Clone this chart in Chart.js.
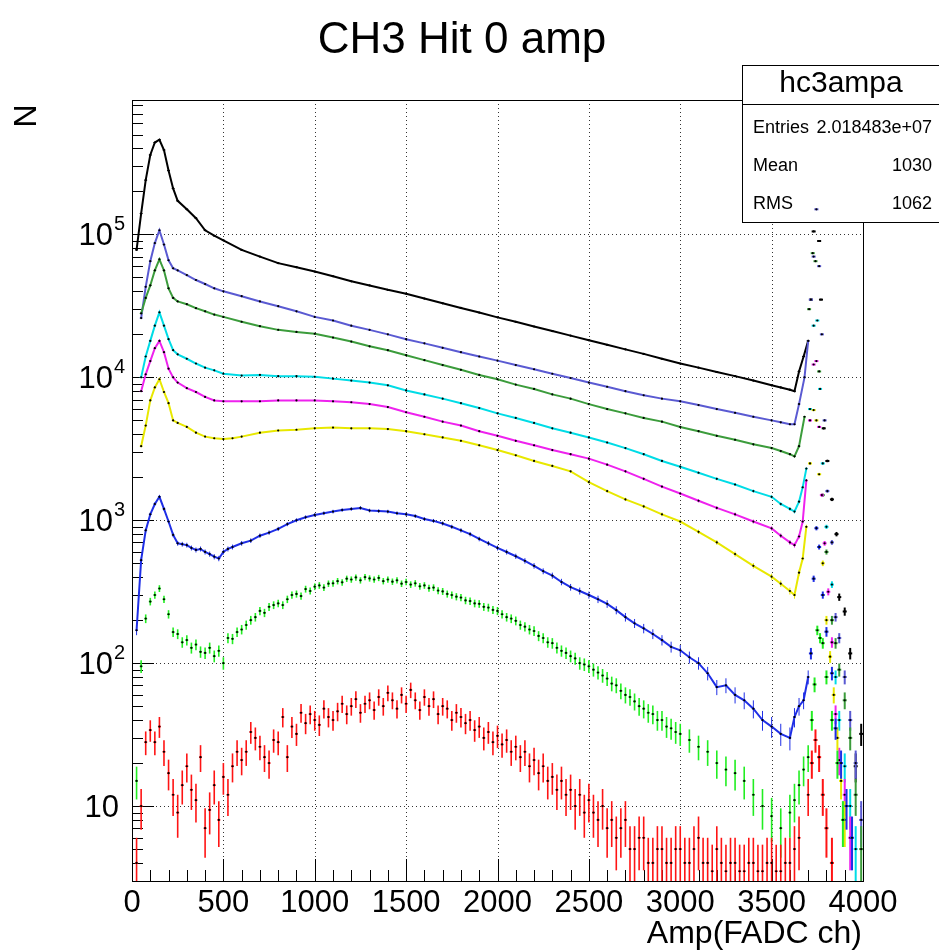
<!DOCTYPE html>
<html>
<head>
<meta charset="utf-8">
<script src="https://cdn.jsdelivr.net/npm/chart.js@4.4.1/dist/chart.umd.min.js"></script>
<style>
  html, body { margin: 0; padding: 0; background: #ffffff; }
  #wrap { width: 939px; height: 952px; position: relative; }
</style>
</head>
<body>
<div id="wrap"><canvas id="c" width="939" height="952"></canvas></div>
<script>
// ---------------- text ----------------
const titleText = 'CH3 Hit 0 amp';
const xAxisTitle = 'Amp(FADC ch)';
const yAxisTitle = 'N';
const statsName = 'hc3ampa';
const statsLabels = ['Entries', 'Mean', 'RMS'];
const statsValues = ['2.018483e+07', '1030', '1062'];

// ---------------- axes ----------------
const xMin = 0, xMax = 4000;
const yMin = 2.99, yMax = 8.73e5;
const xTickValues = [0, 500, 1000, 1500, 2000, 2500, 3000, 3500, 4000];
const xTickLabels = ['0', '500', '1000', '1500', '2000', '2500', '3000', '3500', '4000'];
const yTickValues = [10, 100, 1000, 10000, 100000];
const yTickBase = ['10', '10', '10', '10', '10'];
const yTickExp = ['', '2', '3', '4', '5'];

// ---------------- series (Amp channel, counts) ----------------
// black
const xBlack = [25,50,75,100,125,150,175,200,225,250,300,350,400,450,500,600,700,800,900,1000,1100,1200,1300,1400,1500,1600,1700,1800,1900,2000,2100,2200,2300,2400,2500,2600,2700,2800,2900,3000,3100,3200,3300,3400,3500,3550,3600,3625,3650,3675,3700,3715,3730,3745,3760,3770,3785,3805,3830,3855,3870,3900,3930,3960,3990];
const yBlack = [7.8e4,1.4e5,2.4e5,3.6e5,4.4e5,4.6e5,3.9e5,2.8e5,2.1e5,1.72e5,1.5e5,1.3e5,1.07e5,9.8e4,9.1e4,7.8e4,7.0e4,6.3e4,5.9e4,5.5e4,5.1e4,4.7e4,4.4e4,4.1e4,3.85e4,3.56e4,3.3e4,3.06e4,2.84e4,2.63e4,2.45e4,2.27e4,2.11e4,1.96e4,1.82e4,1.69e4,1.57e4,1.46e4,1.35e4,1.25e4,1.17e4,1.09e4,1.02e4,9.5e3,8.8e3,8.5e3,8.2e3,8.0e3,1.1e4,1.4e4,1.8e4,3.5e4,1.05e5,1.9e5,9e4,3.5e4,4.4e3,2.6e3,1.4e3,800,290,230,117,19,32];
// slate blue
const xViolet = [50,75,100,125,150,175,200,225,250,300,350,400,450,500,600,700,800,900,1000,1100,1200,1300,1400,1500,1600,1700,1800,1900,2000,2100,2200,2300,2400,2500,2600,2700,2800,2900,3000,3100,3200,3300,3400,3500,3550,3600,3625,3650,3680,3700,3715,3730,3745,3760,3775,3790,3805,3830,3850,3870,3900,3930,3960,3990];
const yViolet = [2.6e4,4.3e4,6.5e4,8.7e4,1.07e5,8.5e4,6.6e4,5.8e4,5.6e4,5.2e4,4.8e4,4.5e4,4.2e4,4.0e4,3.7e4,3.4e4,3.15e4,2.9e4,2.65e4,2.5e4,2.3e4,2.15e4,2.0e4,1.85e4,1.73e4,1.61e4,1.5e4,1.4e4,1.31e4,1.22e4,1.14e4,1.06e4,9.9e3,9.2e3,8.6e3,8.0e3,7.5e3,7.1e3,6.8e3,6.4e3,6.0e3,5.65e3,5.3e3,5.0e3,4.85e3,4.7e3,4.7e3,6.5e3,1e4,1.8e4,3.5e4,7e4,1.5e5,6e4,2e4,5e3,1.6e3,700,210,150,80,40,20,8];
// green
const xGreen = [50,75,100,125,150,175,200,225,250,300,350,400,450,500,600,700,800,900,1000,1100,1200,1300,1400,1500,1600,1700,1800,1900,2000,2100,2200,2300,2400,2500,2600,2700,2800,2900,3000,3100,3200,3300,3400,3500,3550,3600,3625,3650,3680,3705,3725,3740,3760,3780,3800,3830,3850,3870,3900,3930,3960,3990];
const yGreen = [2.8e4,3.6e4,4.4e4,5.6e4,6.7e4,5.6e4,4.2e4,3.6e4,3.4e4,3.25e4,3.05e4,2.9e4,2.75e4,2.65e4,2.45e4,2.28e4,2.15e4,2.08e4,2.02e4,1.9e4,1.78e4,1.65e4,1.55e4,1.43e4,1.32e4,1.22e4,1.13e4,1.04e4,9.7e3,8.9e3,8.3e3,7.6e3,7.1e3,6.5e3,6.0e3,5.6e3,5.2e3,4.9e3,4.5e3,4.2e3,3.9e3,3.66e3,3.4e3,3.2e3,3.05e3,2.9e3,2.8e3,3.3e3,5.3e3,3e4,7.4e4,6.5e4,1.1e4,1.5e3,600,200,138,90,55,30,12,5];
// cyan
const xCyan = [50,75,100,125,150,175,200,225,250,300,350,400,450,500,600,700,800,900,1000,1100,1200,1300,1400,1500,1600,1700,1800,1900,2000,2100,2200,2300,2400,2500,2600,2700,2800,2900,3000,3100,3200,3300,3400,3500,3550,3600,3625,3650,3670,3690,3710,3730,3750,3765,3780,3800,3830,3850,3870,3900,3930,3960];
const yCyan = [1.0e4,1.4e4,1.8e4,2.3e4,2.85e4,2.3e4,1.85e4,1.55e4,1.45e4,1.35e4,1.25e4,1.17e4,1.12e4,1.06e4,1.03e4,1.04e4,1.02e4,1.02e4,1.01e4,9.8e3,9.5e3,9.2e3,8.8e3,8.1e3,7.6e3,7.1e3,6.6e3,6.1e3,5.6e3,5.2e3,4.8e3,4.4e3,4.1e3,3.8e3,3.5e3,3.2e3,2.9e3,2.6e3,2.37e3,2.15e3,1.95e3,1.78e3,1.6e3,1.46e3,1.3e3,1.2e3,1.15e3,1.35e3,1.7e3,2.3e3,6e3,2.3e4,2.5e4,8.3e3,2.5e3,900,355,80,40,19,10,5];
// magenta
const xMagenta = [50,75,100,125,150,175,200,225,250,300,350,400,450,500,600,700,800,900,1000,1100,1200,1300,1400,1500,1600,1700,1800,1900,2000,2100,2200,2300,2400,2500,2600,2700,2800,2900,3000,3100,3200,3300,3400,3500,3550,3600,3625,3650,3670,3690,3710,3730,3745,3760,3775,3790,3810,3830,3850,3870,3900,3930];
const yMagenta = [8e3,1.05e4,1.3e4,1.6e4,1.8e4,1.5e4,1.15e4,1.0e4,9.2e3,8.4e3,7.9e3,7.3e3,6.9e3,6.8e3,6.8e3,6.8e3,6.9e3,6.9e3,6.9e3,6.8e3,6.7e3,6.5e3,6.2e3,5.7e3,5.3e3,4.9e3,4.6e3,4.2e3,3.9e3,3.6e3,3.35e3,3.1e3,2.9e3,2.7e3,2.45e3,2.2e3,1.95e3,1.72e3,1.54e3,1.37e3,1.22e3,1.1e3,980,877,780,700,670,770,980,1.9e3,5e3,1.23e4,1.3e4,4.5e3,1.5e3,690,316,140,44,21,12,6];
// yellow
const xYellow = [50,75,100,125,150,175,200,225,250,300,350,400,450,500,550,600,700,800,900,1000,1100,1200,1300,1400,1500,1600,1700,1800,1900,2000,2100,2200,2300,2400,2500,2600,2700,2800,2900,3000,3100,3200,3300,3400,3500,3550,3600,3625,3650,3670,3690,3710,3730,3745,3760,3780,3800,3820,3840,3860,3880,3900];
const yYellow = [3.3e3,4.6e3,6.9e3,8.5e3,9.7e3,7.9e3,6.6e3,5e3,4.8e3,4.5e3,4.1e3,3.85e3,3.75e3,3.7e3,3.75e3,3.85e3,4.1e3,4.25e3,4.3e3,4.4e3,4.45e3,4.4e3,4.4e3,4.35e3,4.2e3,4.0e3,3.8e3,3.6e3,3.35e3,3.1e3,2.85e3,2.6e3,2.4e3,2.2e3,1.85e3,1.6e3,1.4e3,1.25e3,1.1e3,980,830,700,580,480,403,360,320,300,430,540,900,2.5e3,5.9e3,5e3,2.1e3,500,200,111,60,30,15,8];
// blue
const xBlue = [25,50,75,100,125,150,175,200,225,250,275,300,325,350,375,400,425,450,475,500,525,550,600,650,700,750,800,850,900,950,1000,1050,1100,1150,1200,1250,1300,1350,1400,1450,1500,1550,1600,1650,1700,1750,1800,1850,1900,1950,2000,2050,2100,2150,2200,2250,2300,2350,2400,2450,2500,2550,2600,2650,2700,2750,2800,2850,2900,2950,3000,3050,3100,3150,3200,3250,3300,3350,3400,3450,3500,3550,3600,3625,3650,3675,3700,3715,3730,3745,3760,3780,3800,3830,3850,3880,3910,3940];
const yBlue = [170,526,850,1100,1300,1460,1200,980,790,690,680,670,640,620,630,600,580,556,540,600,630,650,690,720,780,820,870,940,1000,1050,1090,1120,1150,1180,1200,1220,1170,1160,1150,1120,1100,1070,1020,990,950,900,850,800,740,690,640,600,560,520,480,440,410,370,340,320,300,280,260,235,210,190,175,160,145,130,123,110,100,85,68,70,60,55,48,40,36,32,30,42,50,55,80,117,390,880,650,300,166,85,35,20,10,6];
// bright green
const xLime = [25,50,75,100,125,150,175,200,225,250,275,300,325,350,375,400,425,450,475,500,525,550,575,600,625,650,675,700,725,750,775,800,825,850,875,900,925,950,975,1000,1025,1050,1075,1100,1125,1150,1175,1200,1225,1250,1275,1300,1325,1350,1375,1400,1425,1450,1475,1500,1525,1550,1575,1600,1625,1650,1675,1700,1725,1750,1775,1800,1825,1850,1875,1900,1925,1950,1975,2000,2025,2050,2075,2100,2125,2150,2175,2200,2225,2250,2275,2300,2325,2350,2375,2400,2425,2450,2475,2500,2525,2550,2575,2600,2625,2650,2675,2700,2725,2750,2775,2800,2825,2850,2875,2900,2925,2950,2975,3000,3050,3100,3150,3200,3250,3300,3350,3400,3450,3500,3550,3600,3625,3650,3675,3700,3720,3735,3750,3765,3780,3800,3830,3860,3890];
const yLime = [15,95,205,270,300,333,280,220,165,160,140,145,128,135,120,118,128,112,122,100,150,148,165,172,185,200,210,232,225,248,255,262,255,280,300,305,295,330,320,343,350,338,360,362,375,368,390,385,398,380,400,392,385,395,375,385,372,380,360,370,355,362,345,350,335,338,322,318,305,300,292,288,275,272,262,260,248,245,236,232,220,210,205,198,185,180,172,168,155,150,140,138,128,122,118,112,108,100,98,95,90,86,82,78,72,70,64,60,58,54,50,48,45,44,40,40,36,35,33,32,29,26,24,20,18,17,15,12,10,8.5,7,9,11,14,18,22,40,71,170,150,138,80,40,20,8];
// red
const xRed = [25,50,75,100,125,150,175,200,225,250,275,300,325,350,375,400,425,450,475,500,525,550,575,600,625,650,675,700,725,750,775,800,825,850,875,900,925,950,975,1000,1025,1050,1075,1100,1125,1150,1175,1200,1225,1250,1275,1300,1325,1350,1375,1400,1425,1450,1475,1500,1525,1550,1575,1600,1625,1650,1675,1700,1725,1750,1775,1800,1825,1850,1875,1900,1925,1950,1975,2000,2025,2050,2075,2100,2125,2150,2175,2200,2225,2250,2275,2300,2325,2350,2375,2400,2425,2450,2475,2500,2525,2550,2575,2600,2625,2650,2675,2700,2725,2750,2775,2800,2825,2850,2875,2900,2925,2950,2975,3000,3025,3050,3075,3100,3125,3150,3175,3200,3225,3250,3275,3300,3325,3350,3375,3400,3425,3450,3475,3500,3525,3550,3575,3600,3625,3650,3700,3720,3740,3760,3780,3800,3830];
const yRed = [4,10,28,34,28,36,24,17,12,9,14,19,13,11,22,7,9.4,14,8,16,12,19,24,21,24,33,30,26,22,20,29,28,42,22,36,32,45,38,44,40,37,48,42,40,46,52,44,50,56,45,52,55,47,58,50,62,55,48,60,52,65,55,47,58,50,56,44,50,48,40,45,42,38,40,34,36,30,33,28,31,27,29,24,26,22,24,19,21,17,19,15,16,13,15,12,13,10,12,9,11,9,8,10,7,8,6,7,8,5,5,6,6,4,4,5,5,4,4,5,5,4,4,5,6,4,4,3.5,5,4,3.5,4,4,3.5,3.5,4,4,3.5,3.5,4,4,3.5,3.5,4,4,5,6,12,20,29,22,12,7,4];

const seriesList = [
  { xs: xBlack,   ys: yBlack,   color: '#000000', line: true,  order: 9 },
  { xs: xViolet,  ys: yViolet,  color: '#5a5ad2', line: true,  order: 8 },
  { xs: xGreen,   ys: yGreen,   color: '#3c9c3c', line: true,  order: 7 },
  { xs: xCyan,    ys: yCyan,    color: '#00dce6', line: true,  order: 6 },
  { xs: xMagenta, ys: yMagenta, color: '#ee22ee', line: true,  order: 5 },
  { xs: xYellow,  ys: yYellow,  color: '#e8e800', line: true,  order: 4 },
  { xs: xBlue,    ys: yBlue,    color: '#1e2ee6', line: true,  order: 3 },
  { xs: xLime,    ys: yLime,    color: '#22ee22', line: false, order: 2 },
  { xs: xRed,     ys: yRed,     color: '#ff1414', line: false, order: 1 }
];

const FONT = '"Liberation Sans", Arial, Helvetica, sans-serif';
const TAIL_START = 3700;

function drawStatsBox(ctx) {
  ctx.save();
  ctx.fillStyle = '#ffffff';
  ctx.fillRect(742.5, 65.5, 230, 157);
  ctx.strokeStyle = '#000000';
  ctx.lineWidth = 1;
  ctx.strokeRect(742.5, 65.5, 230, 157);
  ctx.beginPath(); ctx.moveTo(742.5, 104.5); ctx.lineTo(972, 104.5); ctx.stroke();
  ctx.fillStyle = '#000000';
  ctx.textAlign = 'center'; ctx.textBaseline = 'alphabetic';
  ctx.font = '30px ' + FONT;
  ctx.fillText(statsName, 841, 92);
  ctx.font = '18px ' + FONT;
  const rowsY = [132.5, 170.5, 208.5];
  for (let i = 0; i < statsLabels.length; i++) {
    ctx.textAlign = 'left';
    ctx.fillText(statsLabels[i], 753, rowsY[i]);
    ctx.textAlign = 'right';
    ctx.fillText(statsValues[i], 932, rowsY[i]);
  }
  ctx.restore();
}

const rootStyle = {
  id: 'rootStyle',
  beforeDatasetsDraw(chart) {
    const { ctx, chartArea: a, scales: { x, y } } = chart;
    ctx.save();
    // dotted grid
    ctx.strokeStyle = 'rgba(0,0,0,0.8)';
    ctx.lineWidth = 1;
    ctx.setLineDash([1, 3]);
    for (const v of xTickValues) {
      if (v <= xMin || v >= xMax) continue;
      const px = Math.round(x.getPixelForValue(v)) + 0.5;
      ctx.beginPath(); ctx.moveTo(px, a.top); ctx.lineTo(px, a.bottom); ctx.stroke();
    }
    for (const v of yTickValues) {
      const py = Math.round(y.getPixelForValue(v)) + 0.5;
      ctx.beginPath(); ctx.moveTo(a.left, py); ctx.lineTo(a.right, py); ctx.stroke();
    }
    ctx.setLineDash([]);
    // frame
    ctx.strokeStyle = '#000000';
    ctx.strokeRect(Math.round(a.left) + 0.5, Math.round(a.top) + 0.5, Math.round(a.right - a.left), Math.round(a.bottom - a.top));
    // x ticks (inside)
    for (let v = xMin; v <= xMax; v += 100) {
      const len = (v % 500 === 0) ? 22 : 11;
      const px = Math.round(x.getPixelForValue(v)) + 0.5;
      ctx.beginPath(); ctx.moveTo(px, a.bottom); ctx.lineTo(px, a.bottom - len); ctx.stroke();
    }
    // y ticks (inside), log
    for (let d = 0; d <= 6; d++) {
      for (let m = 1; m <= 9; m++) {
        const v = m * Math.pow(10, d);
        if (v < yMin || v > yMax) continue;
        const len = (m === 1) ? 22 : 11;
        const py = Math.round(y.getPixelForValue(v)) + 0.5;
        ctx.beginPath(); ctx.moveTo(a.left, py); ctx.lineTo(a.left + len, py); ctx.stroke();
      }
    }
    ctx.restore();
  },
  beforeDatasetDraw(chart, args) {
    const ds = chart.data.datasets[args.index];
    const { ctx, chartArea: a, scales: { x, y } } = chart;
    ctx.save();
    ctx.beginPath(); ctx.rect(a.left, a.top, a.right - a.left, a.bottom - a.top); ctx.clip();
    ctx.strokeStyle = ds.borderColor;
    for (const p of ds.data) {
      const tail = p.x > TAIL_START;
      ctx.lineWidth = tail ? 2 : ds.errWidth;
      const e = Math.sqrt(p.y);
      const px = x.getPixelForValue(p.x);
      const py = y.getPixelForValue(p.y);
      const lo = Math.max(p.y - e, 1e-3);
      const y1 = y.getPixelForValue(lo);
      const y2 = y.getPixelForValue(p.y + e);
      ctx.beginPath(); ctx.moveTo(px, y1); ctx.lineTo(px, y2); ctx.stroke();
      const hb = tail ? 11 : ds.halfBin;
      const hx = x.getPixelForValue(p.x + hb) - px;
      ctx.beginPath(); ctx.moveTo(px - hx, py); ctx.lineTo(px + hx, py); ctx.stroke();
    }
    ctx.restore();
  },
  afterDatasetDraw(chart, args) {
    if (chart.data.datasets[args.index].isFirst) drawStatsBox(chart.ctx);
  },
  afterDraw(chart) {
    const { ctx, chartArea: a, scales: { x, y } } = chart;
    ctx.save();
    ctx.fillStyle = '#000000';
    // title
    ctx.font = '44px ' + FONT;
    ctx.textAlign = 'center'; ctx.textBaseline = 'alphabetic';
    ctx.fillText(titleText, 462, 53);
    // x tick labels
    ctx.font = '31px ' + FONT;
    ctx.textAlign = 'center';
    for (let i = 0; i < xTickValues.length; i++) {
      ctx.fillText(xTickLabels[i], x.getPixelForValue(xTickValues[i]), a.bottom + 31);
    }
    // y tick labels
    for (let i = 0; i < yTickValues.length; i++) {
      const py = y.getPixelForValue(yTickValues[i]);
      if (yTickExp[i] === '') {
        ctx.font = '31px ' + FONT; ctx.textAlign = 'right';
        ctx.fillText(yTickBase[i], 119, py + 11);
      } else {
        ctx.font = '20px ' + FONT; ctx.textAlign = 'right';
        ctx.fillText(yTickExp[i], 125, py - 4);
        const ew = ctx.measureText(yTickExp[i]).width;
        ctx.font = '31px ' + FONT;
        ctx.fillText(yTickBase[i], 125 - ew - 1, py + 11);
      }
    }
    // axis titles
    ctx.font = '32px ' + FONT;
    ctx.textAlign = 'right';
    ctx.fillText(xAxisTitle, 862, 943);
    ctx.save();
    ctx.translate(36, 116);
    ctx.rotate(-Math.PI / 2);
    ctx.textAlign = 'center';
    ctx.fillText(yAxisTitle, 0, 0);
    ctx.restore();
    ctx.restore();
  }
};

const datasets = seriesList.map((s, i) => ({
  data: s.xs.map((xv, k) => ({ x: xv, y: s.ys[k] })),
  borderColor: s.color,
  backgroundColor: s.color,
  showLine: s.line,
  borderWidth: 2,
  pointRadius: 1.1,
  pointBorderWidth: 0,
  pointBackgroundColor: '#000000',
  pointHoverRadius: 0,
  tension: 0,
  order: s.order,
  errWidth: s.line ? 1 : 1.6,
  halfBin: 8,
  isFirst: i === 0,
  segment: {
    borderColor: ctx => (ctx.p1.parsed.x > TAIL_START ? 'rgba(0,0,0,0)' : undefined)
  }
}));

new Chart(document.getElementById('c'), {
  type: 'scatter',
  data: { datasets },
  options: {
    responsive: false,
    animation: false,
    devicePixelRatio: 1,
    layout: { padding: { left: 132, right: 76, top: 100, bottom: 71 } },
    scales: {
      x: { type: 'linear', min: xMin, max: xMax, display: false },
      y: { type: 'logarithmic', min: yMin, max: yMax, display: false }
    },
    plugins: { legend: { display: false }, tooltip: { enabled: false }, title: { display: false } },
    events: []
  },
  plugins: [rootStyle]
});
</script>
</body>
</html>
